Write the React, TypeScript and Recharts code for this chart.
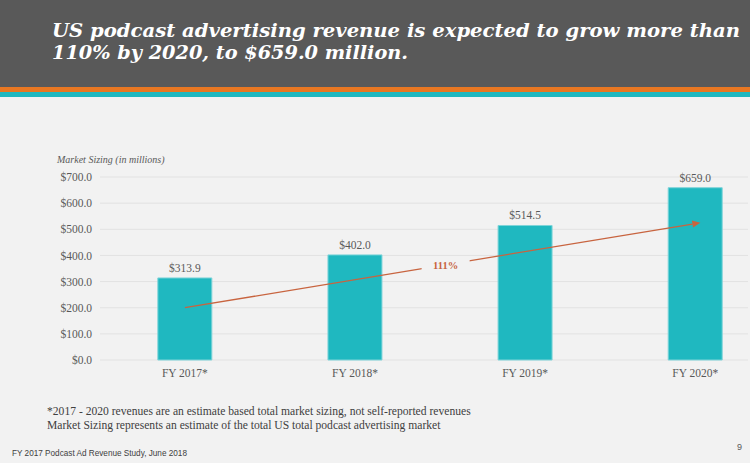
import React from "react";
import { BarChart, Bar, XAxis, YAxis, CartesianGrid, LabelList, ReferenceLine } from "recharts";

const categories = ["FY 2017*", "FY 2018*", "FY 2019*", "FY 2020*"];
const revenue = [313.9, 402.0, 514.5, 659.0];
const yTicks = [0, 100, 200, 300, 400, 500, 600, 700];
const trendX = [0, 3.03];
const trendY = [200, 525];
const trendLabel = "111%";

const titleLines = [
  "US podcast advertising revenue is expected to grow more than",
  "110% by 2020, to $659.0 million.",
];
const footnotes = [
  "*2017 - 2020 revenues are an estimate based total market sizing, not self-reported revenues",
  "Market Sizing represents an estimate of the total US total podcast advertising market",
];
const footer = "FY 2017 Podcast Ad Revenue Study, June 2018";
const pageNum = "9";
const yTitle = "Market Sizing (in millions)";

const data = categories.map((c, i) => ({ idx: i, name: c, value: revenue[i] }));

const TEAL = "#1fb8c0";
const ORANGE = "#e87722";
const TREND = "#c8643f";
const SERIF = "'Liberation Serif', 'DejaVu Serif', serif";

const TrendShape = (props: any) => {
  const { x1, y1, x2, y2 } = props;
  if ([x1, y1, x2, y2].some((v) => v == null || isNaN(v))) return null;
  const mx = (x1 + x2) / 2 + 3;
  const my = y1 + ((mx - x1) / (x2 - x1)) * (y2 - y1);
  const ang = Math.atan2(y2 - y1, x2 - x1);
  const ah = 8;
  const aw = 3.5;
  const bx = x2 - ah * Math.cos(ang);
  const by = y2 - ah * Math.sin(ang);
  const p1 = `${x2},${y2}`;
  const p2 = `${bx - aw * Math.sin(ang)},${by + aw * Math.cos(ang)}`;
  const p3 = `${bx + aw * Math.sin(ang)},${by - aw * Math.cos(ang)}`;
  return (
    <g>
      <line x1={x1} y1={y1} x2={bx} y2={by} stroke={TREND} strokeWidth={1.3} />
      <polygon points={`${p1} ${p2} ${p3}`} fill={TREND} />
      <rect x={mx - 24} y={my - 8} width={48} height={16} fill="#f2f2f2" />
      <text x={mx} y={my + 4} textAnchor="middle" fill={TREND} fontFamily={SERIF} fontWeight="bold" fontSize={10.5}>
        {trendLabel}
      </text>
    </g>
  );
};

export default function App() {
  return (
    <div style={{ position: "absolute", left: 0, top: 0, width: 750, height: 463, background: "#f2f2f2", overflow: "hidden" }}>
      <svg width={750} height={100} style={{ position: "absolute", left: 0, top: 0 }}>
        <rect x={0} y={0} width={750} height={87} fill="#595959" />
        <rect x={0} y={87} width={750} height={5} fill={ORANGE} />
        <rect x={0} y={92} width={750} height={5} fill={TEAL} />
        <text x={52} y={37} fill="#ffffff" fontFamily="'DejaVu Serif', serif" fontStyle="italic" fontWeight="bold" fontSize={19.3} textLength={688} lengthAdjust="spacingAndGlyphs">
          {titleLines[0]}
        </text>
        <text x={52} y={59} fill="#ffffff" fontFamily="'DejaVu Serif', serif" fontStyle="italic" fontWeight="bold" fontSize={19.3} textLength={356} lengthAdjust="spacingAndGlyphs">
          {titleLines[1]}
        </text>
      </svg>
      <div style={{ position: "absolute", left: 0, top: 0 }}>
        <BarChart width={750} height={463} data={data} margin={{ top: 177, right: 2, bottom: 0, left: 50 }}>
          <CartesianGrid vertical={false} stroke="#e2e2e2" strokeWidth={1} />
          <XAxis
            dataKey="idx"
            type="number"
            domain={[-0.499, 3.31]}
            ticks={[0, 1, 2, 3]}
            tickFormatter={(v: number) => categories[v]}
            axisLine={false}
            tickLine={false}
            tickSize={0}
            tickMargin={9}
            height={103}
            allowDataOverflow
            tick={{ fill: "#595959", fontFamily: SERIF, fontSize: 11.5 }}
          />
          <YAxis
            domain={[0, 700]}
            ticks={yTicks}
            width={50}
            axisLine={false}
            tickLine={false}
            tickSize={0}
            tickMargin={8}
            tickFormatter={(v: number) => `$${v.toFixed(1)}`}
            tick={{ fill: "#595959", fontFamily: SERIF, fontSize: 11.5 }}
          />
          <Bar dataKey="value" fill={TEAL} stroke="#7fd4d9" strokeWidth={1} barSize={54} isAnimationActive={false}>
            <LabelList
              dataKey="value"
              position="top"
              offset={6}
              formatter={(v: any) => `$${Number(v).toFixed(1)}`}
              style={{ fill: "#595959", fontFamily: SERIF, fontSize: 11.5 }}
            />
          </Bar>
          <ReferenceLine
            segment={[
              { x: trendX[0], y: trendY[0] },
              { x: trendX[1], y: trendY[1] },
            ]}
            shape={TrendShape}
            ifOverflow="visible"
          />
        </BarChart>
      </div>
      <svg width={750} height={463} style={{ position: "absolute", left: 0, top: 0, pointerEvents: "none" }}>
        <text x={57} y={163} fill="#595959" fontFamily={SERIF} fontStyle="italic" fontSize={10}>
          {yTitle}
        </text>
        <text x={47} y={415} fill="#404040" fontFamily={SERIF} fontSize={11.6}>
          {footnotes[0]}
        </text>
        <text x={47} y={429} fill="#404040" fontFamily={SERIF} fontSize={11.6}>
          {footnotes[1]}
        </text>
        <text x={12} y={456} fill="#404040" fontFamily="'Liberation Sans', Arial, sans-serif" fontSize={8.2}>
          {footer}
        </text>
        <text x={737} y={450} fill="#595959" fontFamily="'Liberation Sans', Arial, sans-serif" fontSize={9}>
          {pageNum}
        </text>
      </svg>
    </div>
  );
}
